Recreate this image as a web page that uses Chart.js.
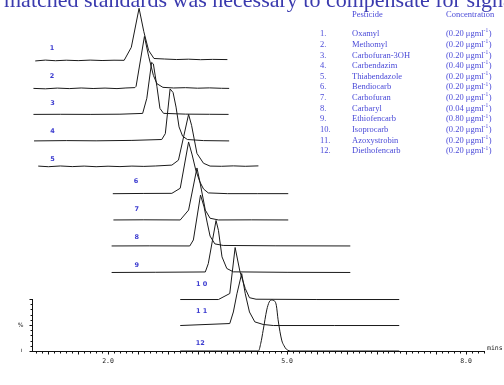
<!DOCTYPE html>
<html>
<head>
<meta charset="utf-8">
<script src="https://cdn.jsdelivr.net/npm/chart.js@4.4.0/dist/chart.umd.min.js"></script>
<style>
  body { margin: 0; background: #fff; }
  #wrap { position: relative; width: 504px; height: 385px; }
</style>
</head>
<body>
<div id="wrap"><canvas id="chrom" width="504" height="385"></canvas></div>
<script>
// Pesticide table
const numbers = ["1.", "2.", "3.", "4.", "5.", "6.", "7.", "8.", "9.", "10.", "11.", "12."];
const pesticides = ["Oxamyl", "Methomyl", "Carbofuran-3OH", "Carbendazim", "Thiabendazole", "Bendiocarb",
  "Carbofuran", "Carbaryl", "Ethiofencarb", "Isoprocarb", "Azoxystrobin", "Diethofencarb"];
const concentrations = ["0.20", "0.20", "0.20", "0.40", "0.20", "0.20", "0.20", "0.04", "0.80", "0.20", "0.20", "0.20"];

// Trace labels
const traceLabels = ["1", "2", "3", "4", "5", "6", "7", "8", "9", "1 0", "1 1", "12"];

// Time axis labels (mins)
const timeTicks = [2.0, 5.0, 8.0];

// Traces: [time (min), intensity (%)]
const trace1 = [[0.78,-1.2],[0.95,0.4],[1.12,-0.8],[1.3,0.2],[1.5,-0.6],[1.7,0.4],[1.9,-0.4],[2.1,0.2],[2.27,0],
  [2.39,25],[2.52,100],[2.6,55],[2.68,19],[2.77,3.5],[2.95,2.5],[3.15,1.5],[3.35,2.2],[3.55,1.2],[3.75,1.8],[4.0,1.4]];
const trace2 = [[0.75,0],[0.95,-0.8],[1.15,0.6],[1.35,-0.4],[1.55,0.8],[1.75,-0.2],[1.95,0.6],[2.15,-0.4],[2.3,0.8],
  [2.45,1.5],[2.47,4],[2.61,100],[2.68,62],[2.76,25],[2.82,9],[2.92,2],[3.1,0.8],[3.3,1.4],[3.5,0.4],[3.7,1],[3.9,0.2],[4.03,0]];
const trace3 = [[0.75,0],[1.2,0.2],[1.7,0],[2.2,0.4],[2.58,1.9],[2.65,31],[2.73,100],[2.76,97],[2.82,53],[2.87,11.5],
  [2.93,2],[3.3,0.5],[3.7,0.2],[4.02,0]];
const trace4 = [[0.76,0],[1.3,0.6],[1.8,0.2],[2.4,1],[2.9,2.7],[2.96,14],[3.04,100],[3.09,93],[3.14,65],[3.19,27],
  [3.25,9],[3.33,2.7],[3.6,0.6],[4.03,0]];
const trace5 = [[0.83,0.6],[1.0,-0.6],[1.2,0.8],[1.4,-0.4],[1.6,0.6],[1.8,-0.6],[2.0,0.4],[2.2,-0.4],[2.4,0.6],[2.6,0],
  [2.8,0.8],[3.07,2.5],[3.18,12],[3.35,100],[3.4,79],[3.49,25],[3.6,6],[3.71,0.6],[3.9,0.2],[4.1,1],[4.3,0.2],[4.52,1]];
const trace6 = [[2.08,0.5],[2.6,1],[3.07,1.2],[3.21,11],[3.35,100],[3.41,75],[3.47,46],[3.54,23],[3.6,9.6],[3.68,2],
  [4.0,0.6],[4.5,0.6],[5.02,0.6]];
const trace7 = [[2.09,0],[2.6,0.3],[3.21,0],[3.35,19],[3.49,100],[3.54,73],[3.63,19],[3.71,3.3],[3.85,0],[4.4,0.2],[5.02,0]];
const trace8 = [[2.06,0],[2.7,0.2],[3.37,0],[3.43,11.5],[3.55,98],[3.61,75],[3.66,46],[3.71,19],[3.79,4],[3.93,1],
  [4.8,0.3],[6.06,0]];
const trace9 = [[2.06,0],[2.8,0.4],[3.63,1],[3.68,17],[3.81,100],[3.85,81],[3.91,30],[3.99,7.7],[4.1,1.2],[5,0.3],[6.06,0]];
const trace10 = [[3.21,0],[3.85,0],[4.04,11.5],[4.13,100],[4.21,54],[4.3,21],[4.37,3.5],[4.48,0.6],[5.5,0],[6.88,0]];
const trace11 = [[3.21,0],[4.04,3.8],[4.1,26],[4.16,61],[4.24,100],[4.3,61],[4.37,26],[4.46,7],[4.6,2],[4.77,0],
  [5.8,0],[6.88,0]];
const trace12 = [[3.21,0],[4.52,0],[4.56,15],[4.6,40],[4.66,79],[4.7,94],[4.74,98],[4.78,97],[4.82,88],[4.85,60],
  [4.91,21],[4.95,10],[4.99,3.3],[5.08,0],[6.88,0]];

const traces = [trace1, trace2, trace3, trace4, trace5, trace6, trace7, trace8, trace9, trace10, trace11, trace12];

// stacking of the traces (in % units) and where the little numbers sit
const traceOffsets = [559, 505, 455, 404, 355, 302, 252, 202, 151, 99, 49, 0];
const labelTimes = [1.06, 1.06, 1.07, 1.07, 1.07, 2.47, 2.48, 2.48, 2.48, 3.57, 3.57, 3.545];
const labelLevels = [583, 529, 476, 422, 369, 326, 272, 218, 164, 128, 77, 15];

const blue = "#3c3cd0";

const decorations = {
  id: "decorations",
  afterDatasetsDraw(chart) {
    const ctx = chart.ctx;
    const xs = chart.scales.x;
    const ys = chart.scales.y;
    ctx.save();

    // heading text cut off at the top
    ctx.fillStyle = "#3a3aae";
    ctx.font = '22px "Liberation Serif"';
    ctx.textAlign = "left";
    ctx.textBaseline = "alphabetic";
    ctx.fillText("matched standards was necessary to compensate for signal", 4, 7);

    // x axis
    const y0 = Math.round(ys.getPixelForValue(0)) + 0.5;
    ctx.strokeStyle = "#111";
    ctx.lineWidth = 1;
    ctx.beginPath();
    ctx.moveTo(xs.left, y0);
    ctx.lineTo(xs.right, y0);
    for (let i = 8; i <= 83; i++) {
      const px = Math.round(xs.getPixelForValue(i / 10)) + 0.5;
      const len = i % 5 === 0 ? 3 : 2;
      ctx.moveTo(px, y0);
      ctx.lineTo(px, y0 + len);
    }
    ctx.stroke();

    ctx.fillStyle = "#222";
    ctx.font = '6.5px "DejaVu Sans Mono"';
    ctx.textAlign = "center";
    ctx.textBaseline = "middle";
    timeTicks.forEach(t => {
      ctx.fillText(t.toFixed(1), xs.getPixelForValue(t), y0 + 10);
    });
    ctx.textAlign = "left";
    ctx.fillText("mins", xs.right + 2, y0 - 3);

    // y axis (0-100 %)
    const yTop = Math.round(ys.getPixelForValue(100));
    const ax = Math.round(xs.left) + 0.5;
    ctx.beginPath();
    ctx.moveTo(ax, yTop);
    ctx.lineTo(ax, y0);
    for (let p = 0; p <= 100; p += 10) {
      const py = Math.round(ys.getPixelForValue(p)) + 0.5;
      const len = p % 50 === 0 ? 3 : 2;
      ctx.moveTo(ax, py);
      ctx.lineTo(ax - len, py);
    }
    ctx.stroke();
    ctx.font = '6px "DejaVu Sans"';
    ctx.textAlign = "center";
    ctx.fillText("%", ax - 12, ys.getPixelForValue(50));
    ctx.fillText("ı", ax - 11, y0 - 1);

    // trace numbers
    ctx.fillStyle = blue;
    ctx.font = 'bold 6.5px "DejaVu Sans"';
    traceLabels.forEach((lab, i) => {
      ctx.fillText(lab, xs.getPixelForValue(labelTimes[i]), ys.getPixelForValue(labelLevels[i]));
    });

    // pesticide table
    ctx.fillStyle = "#4a4ad8";
    ctx.font = '8.5px "Liberation Serif"';
    ctx.textAlign = "left";
    ctx.fillText("Pesticide", 352, 14.5);
    ctx.fillText("Concentration", 446, 14.5);
    pesticides.forEach((name, i) => {
      const ry = 34 + i * 10.65;
      ctx.font = '8.5px "Liberation Serif"';
      ctx.fillText(numbers[i], 320, ry);
      ctx.fillText(name, 352, ry);
      const head = "(" + concentrations[i] + " \u03bcgml";
      ctx.fillText(head, 446, ry);
      const w = ctx.measureText(head).width;
      ctx.font = '5.5px "Liberation Serif"';
      ctx.fillText("-1", 446 + w, ry - 3);
      const w2 = ctx.measureText("-1").width;
      ctx.font = '8.5px "Liberation Serif"';
      ctx.fillText(")", 446 + w + w2 + 0.5, ry);
    });

    ctx.restore();
  }
};

const datasets = traces.map((pts, i) => ({
  label: pesticides[i],
  data: pts.map(([t, v]) => ({ x: t, y: v + traceOffsets[i] })),
  showLine: true,
  borderColor: "#1a1a1a",
  borderWidth: 1,
  pointRadius: 0,
  fill: false,
  cubicInterpolationMode: i === 11 ? "monotone" : "default",
  tension: 0
}));

const ctx = document.getElementById("chrom").getContext("2d");
new Chart(ctx, {
  type: "scatter",
  data: { datasets: datasets },
  options: {
    responsive: false,
    animation: false,
    layout: { padding: { left: 32, right: 19, top: 4, bottom: 34 } },
    plugins: { legend: { display: false }, tooltip: { enabled: false } },
    scales: {
      x: { type: "linear", display: false, min: 0.7257, max: 8.3174 },
      y: { type: "linear", display: false, min: 0, max: 667.3 }
    }
  },
  plugins: [decorations]
});
</script>
</body>
</html>
